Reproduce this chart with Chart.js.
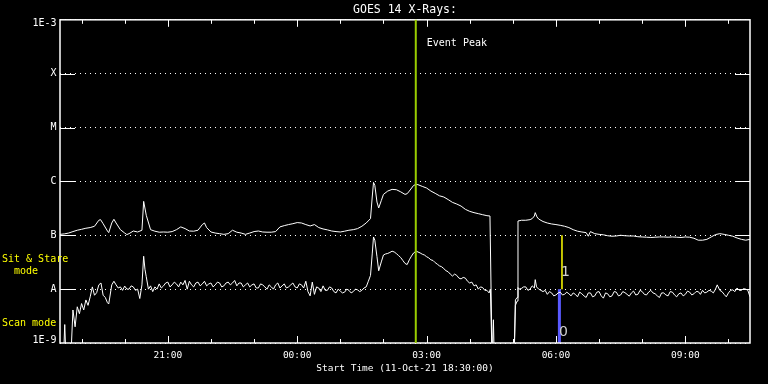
<!DOCTYPE html>
<html>
<head>
<meta charset="utf-8">
<title>GOES 14 X-Rays</title>
<script src="https://cdn.jsdelivr.net/npm/chart.js@4"></script>
<style>
  html, body { margin: 0; padding: 0; background: #000; }
</style>
</head>
<body>
<canvas id="goesChart" width="768" height="384"></canvas>
<script>
// times are hours after the start (11-Oct-21 18:30:00), flux is in units of 1E-8 W/m^2
const longTimes = [
  0.0, 0.1, 0.2, 0.3, 0.4, 0.5, 0.6, 0.7, 0.8, 0.9,
  0.94, 1.0, 1.1, 1.13, 1.2, 1.25, 1.3, 1.4, 1.5, 1.55,
  1.6, 1.7, 1.8, 1.9, 1.94, 2.0, 2.1, 2.2, 2.3, 2.4,
  2.5, 2.6, 2.7, 2.8, 2.9, 3.0, 3.1, 3.2, 3.3, 3.35,
  3.4, 3.5, 3.6, 3.7, 3.8, 3.9, 4.0, 4.1, 4.2, 4.3,
  4.4, 4.5, 4.6, 4.7, 4.8, 4.9, 5.0, 5.1, 5.2, 5.3,
  5.4, 5.5, 5.6, 5.7, 5.8, 5.9, 6.0, 6.1, 6.2, 6.3,
  6.4, 6.5, 6.6, 6.7, 6.8, 6.9, 7.0, 7.1, 7.2, 7.24,
  7.27, 7.3, 7.35, 7.39, 7.45, 7.5, 7.6, 7.7, 7.8, 7.9,
  8.0, 8.05, 8.1, 8.2, 8.26, 8.3, 8.4, 8.5, 8.6, 8.7,
  8.8, 8.9, 9.0, 9.1, 9.2, 9.3, 9.4, 9.5, 9.6, 9.7,
  9.8, 9.9, 9.97, 10.02, 10.53, 10.56, 10.6, 10.62, 10.7, 10.8,
  10.9, 10.95, 11.0, 11.02, 11.06, 11.1, 11.2, 11.3, 11.4, 11.5,
  11.6, 11.7, 11.8, 11.9, 12.0, 12.1, 12.2, 12.25, 12.3, 12.4,
  12.5, 12.6, 12.7, 12.8, 12.9, 13.0, 13.1, 13.2, 13.3, 13.4,
  13.5, 13.6, 13.7, 13.8, 13.9, 14.0, 14.1, 14.2, 14.3, 14.4,
  14.5, 14.6, 14.7, 14.8, 14.9, 15.0, 15.1, 15.2, 15.3, 15.4,
  15.5, 15.6, 15.7, 15.8, 15.9, 16.0
];
const longFlux = [
  10.4, 10.6, 11.0, 11.7, 12.4, 12.9, 13.5, 13.9, 14.7, 19.0,
  19.5, 16.4, 12.0, 11.2, 16.9, 19.8, 16.9, 12.7, 11.0, 10.3,
  10.7, 12.0, 11.5, 12.4, 42.6, 23.5, 12.7, 11.9, 11.4, 11.5,
  11.4, 11.7, 12.7, 14.3, 13.3, 12.0, 11.9, 12.4, 15.8, 16.9,
  13.9, 11.5, 11.0, 10.7, 10.4, 10.7, 12.4, 11.4, 11.0, 10.4,
  11.0, 11.7, 12.0, 11.5, 11.4, 11.4, 11.7, 14.3, 15.1, 15.8,
  16.4, 17.2, 16.9, 15.8, 14.9, 15.8, 13.9, 13.1, 12.6, 12.0,
  11.7, 11.5, 11.9, 12.4, 12.7, 13.3, 14.7, 16.9, 20.4, 51.3,
  95.8, 84.3, 41.4, 32.1, 44.0, 57.4, 66.2, 71.1, 70.1, 64.0,
  57.4, 59.1, 66.2, 84.3, 88.0, 87.0, 80.8, 75.4, 66.2, 60.0,
  54.0, 51.3, 46.0, 40.8, 38.0, 34.8, 30.3, 27.8, 26.3, 25.2,
  24.1, 23.1, 22.8, 0.05, 0.05, 0.5, 0.6, 18.4, 19.0, 19.0,
  19.5, 20.4, 22.8, 26.3, 21.9, 20.0, 18.0, 16.9, 16.2, 15.8,
  15.3, 14.7, 13.9, 12.7, 11.9, 11.5, 11.2, 9.6, 11.7, 10.7,
  10.4, 10.2, 9.8, 9.6, 9.7, 10.0, 9.8, 9.7, 9.7, 9.4,
  9.3, 9.2, 9.1, 9.2, 9.3, 9.3, 9.2, 9.3, 9.2, 9.1,
  9.3, 9.2, 8.8, 8.1, 8.1, 8.4, 9.3, 10.3, 10.7, 10.4,
  10.0, 9.6, 8.9, 8.4, 8.1, 8.4
];

const shortTimes = [
  0.0, 0.08, 0.11, 0.14, 0.25, 0.3, 0.35, 0.4, 0.45, 0.5,
  0.55, 0.6, 0.65, 0.7, 0.75, 0.8, 0.85, 0.9, 0.95, 1.0,
  1.05, 1.1, 1.13, 1.2, 1.25, 1.3, 1.35, 1.4, 1.45, 1.5,
  1.55, 1.6, 1.65, 1.7, 1.75, 1.8, 1.85, 1.9, 1.94, 1.97,
  2.0, 2.05, 2.1, 2.15, 2.2, 2.25, 2.3, 2.35, 2.4, 2.45,
  2.5, 2.55, 2.6, 2.65, 2.7, 2.75, 2.8, 2.85, 2.9, 2.95,
  3.0, 3.05, 3.1, 3.15, 3.2, 3.25, 3.3, 3.35, 3.4, 3.45,
  3.5, 3.55, 3.6, 3.65, 3.7, 3.75, 3.8, 3.85, 3.9, 3.95,
  4.0, 4.05, 4.1, 4.15, 4.2, 4.25, 4.3, 4.35, 4.4, 4.45,
  4.5, 4.55, 4.6, 4.65, 4.7, 4.75, 4.8, 4.85, 4.9, 4.95,
  5.0, 5.05, 5.1, 5.15, 5.2, 5.25, 5.3, 5.35, 5.4, 5.45,
  5.5, 5.55, 5.6, 5.65, 5.7, 5.75, 5.8, 5.85, 5.9, 5.95,
  6.0, 6.05, 6.1, 6.15, 6.2, 6.25, 6.3, 6.35, 6.4, 6.45,
  6.5, 6.55, 6.6, 6.65, 6.7, 6.75, 6.8, 6.85, 6.9, 6.95,
  7.0, 7.05, 7.1, 7.15, 7.2, 7.24, 7.27, 7.3, 7.35, 7.39,
  7.45, 7.5, 7.55, 7.6, 7.65, 7.7, 7.75, 7.8, 7.85, 7.9,
  7.95, 8.0, 8.05, 8.1, 8.15, 8.2, 8.26, 8.3, 8.35, 8.4,
  8.45, 8.5, 8.55, 8.6, 8.65, 8.7, 8.75, 8.8, 8.85, 8.9,
  8.95, 9.0, 9.05, 9.1, 9.15, 9.2, 9.25, 9.3, 9.35, 9.4,
  9.45, 9.5, 9.55, 9.6, 9.65, 9.7, 9.75, 9.8, 9.85, 9.9,
  9.95, 9.98, 10.02, 10.04, 10.05, 10.07, 10.53, 10.56, 10.6, 10.62,
  10.65, 10.7, 10.75, 10.8, 10.85, 10.9, 10.95, 11.0, 11.02, 11.05,
  11.1, 11.15, 11.2, 11.25, 11.3, 11.35, 11.4, 11.45, 11.5, 11.55,
  11.6, 11.65, 11.7, 11.75, 11.8, 11.85, 11.9, 11.95, 12.0, 12.05,
  12.1, 12.15, 12.2, 12.25, 12.3, 12.35, 12.4, 12.45, 12.5, 12.55,
  12.6, 12.65, 12.7, 12.75, 12.8, 12.85, 12.9, 12.95, 13.0, 13.05,
  13.1, 13.15, 13.2, 13.25, 13.3, 13.35, 13.4, 13.45, 13.5, 13.55,
  13.6, 13.65, 13.7, 13.75, 13.8, 13.85, 13.9, 13.95, 14.0, 14.05,
  14.1, 14.15, 14.2, 14.25, 14.3, 14.35, 14.4, 14.45, 14.5, 14.55,
  14.6, 14.65, 14.7, 14.75, 14.8, 14.85, 14.9, 14.95, 15.0, 15.05,
  15.1, 15.15, 15.2, 15.24, 15.3, 15.35, 15.4, 15.45, 15.5, 15.55,
  15.6, 15.65, 15.7, 15.75, 15.8, 15.85, 15.9, 15.95, 16.0
];
const shortFlux = [
  0.05, 0.05, 0.22, 0.05, 0.05, 0.41, 0.2, 0.47, 0.35, 0.54,
  0.41, 0.63, 0.5, 0.72, 1.1, 0.77, 0.86, 1.2, 1.3, 0.77,
  0.7, 0.56, 0.53, 1.2, 1.4, 1.2, 1.05, 1.1, 0.95, 1.14,
  1.0, 1.0, 1.15, 1.1, 0.95, 1.0, 0.67, 1.2, 4.08, 2.34,
  1.7, 1.0, 1.15, 0.9, 1.1, 1.0, 1.25, 1.05, 1.15, 1.3,
  1.35, 1.1, 1.2, 1.35, 1.25, 1.1, 1.35, 1.2, 1.45, 1.0,
  1.4, 1.2, 1.1, 1.3, 1.35, 1.15, 1.25, 1.4, 1.15, 1.25,
  1.3, 1.1, 1.2, 1.35, 1.3, 1.1, 1.15, 1.3, 1.35, 1.2,
  1.3, 1.45, 1.15, 1.3, 1.3, 1.1, 1.2, 1.3, 1.1, 1.2,
  1.25, 1.05, 1.05, 1.25, 1.2, 1.1, 1.0, 1.2, 1.1, 1.0,
  1.2, 1.3, 1.05, 1.15, 1.25, 1.05, 1.1, 1.2, 1.3, 1.1,
  1.05, 1.25, 1.2, 1.05, 1.4, 0.9, 0.75, 1.35, 0.8, 1.1,
  1.05, 0.9, 1.15, 0.95, 0.95, 1.1, 1.05, 0.9, 0.85, 1.0,
  0.92, 0.85, 0.88, 1.0, 0.95, 0.85, 0.9, 1.0, 0.97, 0.9,
  0.95, 1.05, 1.1, 1.4, 1.8, 4.5, 9.3, 8.1, 4.0, 2.19,
  3.2, 4.3, 4.5, 4.6, 4.8, 5.06, 4.9, 4.57, 4.2, 3.86,
  3.4, 3.0, 2.86, 3.5, 4.1, 4.7, 5.06, 4.9, 4.7, 4.45,
  4.3, 4.0, 3.8, 3.5, 3.4, 3.1, 2.9, 2.7, 2.6, 2.4,
  2.2, 2.1, 1.9, 1.75, 1.9, 1.8, 1.6, 1.55, 1.65, 1.6,
  1.4, 1.3, 1.35, 1.15, 1.2, 1.0, 1.1, 1.07, 0.95, 0.95,
  0.85, 1.0, 0.05, 0.05, 0.27, 0.05, 0.05, 0.63, 0.7, 1.07,
  1.0, 1.03, 1.1, 1.1, 0.95, 1.0, 1.15, 1.05, 1.5, 1.1,
  1.0, 0.95, 0.9, 0.95, 0.8, 0.9, 0.85, 0.75, 0.78, 0.85,
  0.88, 0.78, 0.8, 0.88, 0.82, 0.75, 0.85, 0.8, 0.72, 0.88,
  0.82, 0.75, 0.7, 0.85, 0.85, 0.72, 0.75, 0.88, 0.9, 0.75,
  0.68, 0.85, 0.82, 0.72, 0.75, 0.9, 0.88, 0.75, 0.78, 0.9,
  0.86, 0.8, 0.74, 0.85, 0.92, 0.78, 0.8, 0.95, 0.9, 0.8,
  0.78, 0.88, 0.95, 0.85, 0.82, 0.75, 0.7, 0.85, 0.85, 0.78,
  0.75, 0.9, 0.88, 0.78, 0.72, 0.82, 0.85, 0.75, 0.8, 0.92,
  0.88, 0.78, 0.82, 0.9, 0.9, 0.8, 0.95, 0.85, 0.88, 0.95,
  0.92, 0.85, 1.0, 1.2, 0.95, 0.9, 0.8, 0.72, 0.85, 0.95,
  0.97, 0.9, 1.05, 0.95, 0.95, 1.02, 1.0, 0.95, 0.72
];

const yTickValues = [1e-9, 1e-8, 1e-7, 1e-6, 1e-5, 1e-4, 1e-3];
const yTickLabels = ['1E-9', 'A', 'B', 'C', 'M', 'X', '1E-3'];
const hourTicks = [0.5, 1.5, 2.5, 3.5, 4.5, 5.5, 6.5, 7.5, 8.5, 9.5, 10.5, 11.5, 12.5, 13.5, 14.5, 15.5];
const xTickLabels = ['', '', '21:00', '', '', '00:00', '', '', '03:00', '', '', '06:00', '', '', '09:00', ''];
const peakTime = 8.25;      // Event Peak
const modeTime = 11.58;     // scan -> sit & stare switch
const modeLevels = [1e-9, 1e-8, 1e-7];

const mono = "'DejaVu Sans Mono', monospace";
Chart.defaults.font.family = mono;
Chart.defaults.color = '#fff';

function toPoints(times, flux) {
  return times.map((t, i) => ({ x: t, y: flux[i] * 1e-8 }));
}

// black page, frame, inward ticks, event line and the little labels
const goesFrame = {
  id: 'goesFrame',
  beforeDraw(chart) {
    const ctx = chart.ctx;
    ctx.save();
    ctx.fillStyle = '#000';
    ctx.fillRect(0, 0, chart.width, chart.height);
    ctx.restore();
  },
  afterDatasetsDraw(chart) {
    const { ctx, chartArea: a, scales: { x, y } } = chart;
    ctx.save();
    ctx.strokeStyle = '#fff';
    ctx.lineWidth = 1;
    function seg(x1, y1, x2, y2) {
      ctx.beginPath();
      ctx.moveTo(x1, y1);
      ctx.lineTo(x2, y2);
      ctx.stroke();
    }
    hourTicks.forEach((h, i) => {
      const px = Math.round(x.getPixelForValue(h)) + 0.5;
      const len = xTickLabels[i] ? 7 : 4;
      seg(px, a.bottom, px, a.bottom - len);
      seg(px, a.top, px, a.top + len);
    });
    yTickValues.slice(1, -1).forEach(v => {
      const py = Math.round(y.getPixelForValue(v)) + 0.5;
      seg(a.left, py, a.left + 15, py);
      seg(a.right - 15, py, a.right, py);
    });
    ctx.lineWidth = 1.5;
    ctx.strokeRect(a.left, a.top, a.right - a.left, a.bottom - a.top);

    // end labels of the y axis sit just inside the range
    ctx.fillStyle = '#fff';
    ctx.font = '10px ' + mono;
    ctx.textAlign = 'center';
    ctx.textBaseline = 'middle';
    ctx.fillText(yTickLabels[6], 44.5, y.getPixelForValue(yTickValues[6]) + 4);
    ctx.fillText(yTickLabels[0], 44.5, y.getPixelForValue(yTickValues[0]) - 3);

    // event peak
    const peakX = x.getPixelForValue(peakTime);
    ctx.strokeStyle = '#99cc00';
    ctx.lineWidth = 2;
    seg(peakX, a.top, peakX, a.bottom);
    ctx.textAlign = 'left';
    ctx.fillText('Event Peak', peakX + 11, a.top + 24);

    // mode labels on the left
    ctx.fillStyle = '#ffff00';
    ctx.fillText('Sit & Stare', 2, y.getPixelForValue(3.6e-8));
    ctx.fillText('  mode', 2, y.getPixelForValue(2.15e-8));
    ctx.fillText('Scan mode', 2, y.getPixelForValue(2.35e-9));

    // mode values next to the switch
    const modeX = x.getPixelForValue(modeTime);
    ctx.fillStyle = '#d0d0d0';
    ctx.font = "14px 'DejaVu Sans', sans-serif";
    ctx.textAlign = 'center';
    ctx.fillText('1', modeX + 6, y.getPixelForValue(2.07e-8));
    ctx.fillText('0', modeX + 4, y.getPixelForValue(1.57e-9));
    ctx.restore();
  }
};

const ctx = document.getElementById('goesChart').getContext('2d');
const goesChart = new Chart(ctx, {
  type: 'line',
  data: {
    datasets: [
      {
        label: '1-8 A',
        data: toPoints(longTimes, longFlux),
        borderColor: '#fff',
        borderWidth: 1,
        pointRadius: 0,
        tension: 0
      },
      {
        label: '0.5-4 A',
        data: toPoints(shortTimes, shortFlux),
        borderColor: '#fff',
        borderWidth: 1,
        pointRadius: 0,
        tension: 0
      },
      {
        label: 'Scan mode',
        data: [{ x: modeTime, y: modeLevels[0] }, { x: modeTime, y: modeLevels[1] }],
        borderColor: '#5a5aff',
        borderWidth: 3,
        pointRadius: 0
      },
      {
        label: 'Sit & Stare mode',
        data: [{ x: modeTime + 0.06, y: modeLevels[1] }, { x: modeTime + 0.06, y: modeLevels[2] }],
        borderColor: '#ffff00',
        borderWidth: 1.5,
        pointRadius: 0
      }
    ]
  },
  options: {
    responsive: false,
    animation: false,
    devicePixelRatio: 1,
    layout: { padding: { top: 0, right: 18, bottom: 0, left: 0 } },
    plugins: {
      legend: { display: false },
      tooltip: { enabled: false },
      title: {
        display: true,
        text: 'GOES 14 X-Rays:',
        color: '#fff',
        fullSize: false,
        font: { family: mono, size: 11.5, weight: 'normal' },
        padding: { top: 3, bottom: 3 }
      }
    },
    scales: {
      x: {
        type: 'linear',
        min: 0,
        max: 16,
        afterBuildTicks: s => { s.ticks = hourTicks.map(v => ({ value: v })); },
        afterFit: s => { s.height = 41; },
        ticks: {
          autoSkip: false,
          maxRotation: 0,
          padding: 7,
          color: '#fff',
          font: { size: 9.5 },
          callback: (v, i) => xTickLabels[i]
        },
        grid: { display: false, drawTicks: false },
        border: { display: false },
        title: {
          display: true,
          text: 'Start Time (11-Oct-21 18:30:00)',
          color: '#fff',
          font: { size: 9.5 },
          padding: { top: 0, bottom: 10 }
        }
      },
      y: {
        type: 'logarithmic',
        min: 1e-9,
        max: 1e-3,
        afterBuildTicks: s => { s.ticks = yTickValues.map(v => ({ value: v })); },
        afterFit: s => { s.width = 60; },
        ticks: {
          autoSkip: false,
          crossAlign: 'center',
          padding: 3.5,
          color: '#fff',
          font: { size: 10 },
          // the two end labels are drawn by the plugin, nudged inside the frame
          callback: (v, i) => (i === 0 || i === yTickLabels.length - 1) ? '' : yTickLabels[i]
        },
        grid: { color: '#fff', lineWidth: 1, drawTicks: false },
        border: { display: false, dash: [1, 4] }
      }
    }
  },
  plugins: [goesFrame]
});
</script>
</body>
</html>
